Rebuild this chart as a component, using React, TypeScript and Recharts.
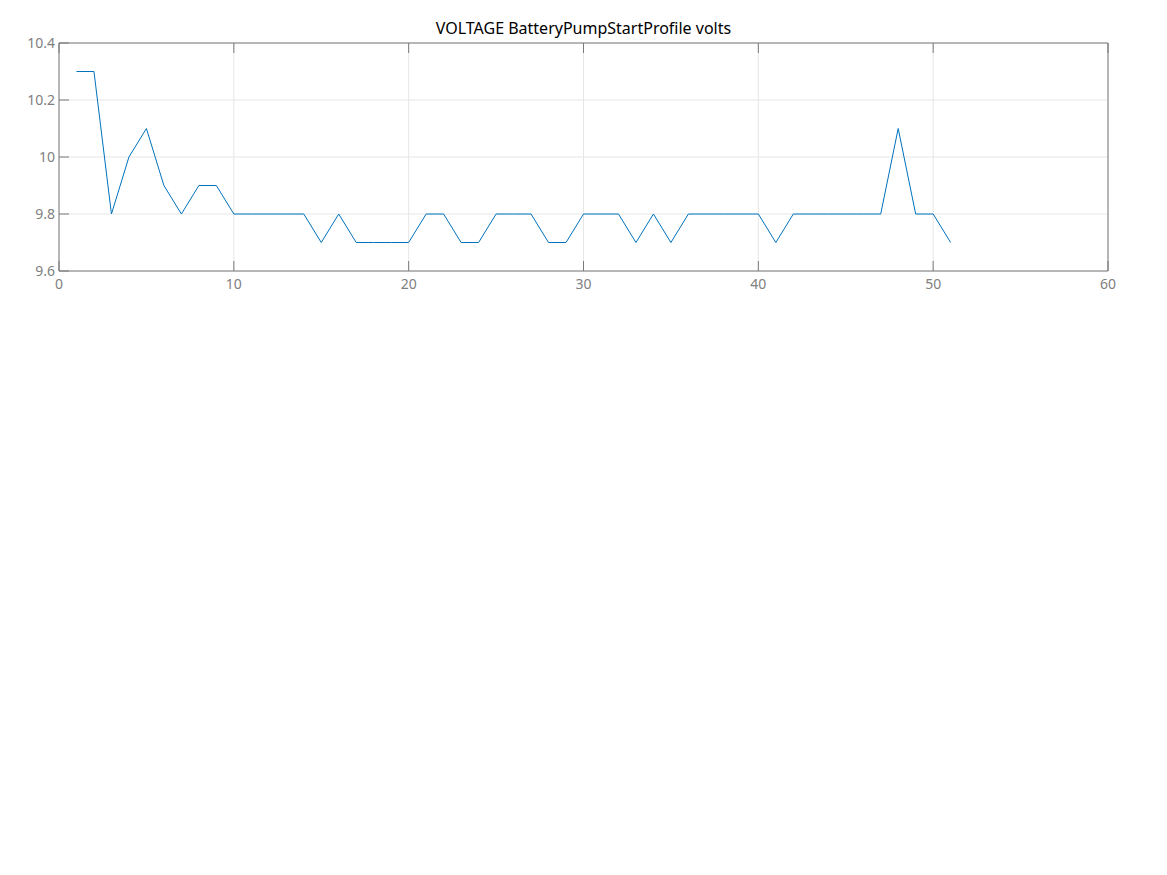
import { LineChart, Line, XAxis, YAxis, CartesianGrid } from 'recharts';

const samples = [
  1, 2, 3, 4, 5, 6, 7, 8, 9, 10, 11, 12, 13, 14, 15, 16, 17, 18, 19, 20, 21, 22, 23, 24, 25,
  26, 27, 28, 29, 30, 31, 32, 33, 34, 35, 36, 37, 38, 39, 40, 41, 42, 43, 44, 45, 46, 47, 48,
  49, 50, 51,
];
const volts = [
  10.3, 10.3, 9.8, 10.0, 10.1, 9.9, 9.8, 9.9, 9.9, 9.8, 9.8, 9.8, 9.8, 9.8, 9.7, 9.8, 9.7, 9.7,
  9.7, 9.7, 9.8, 9.8, 9.7, 9.7, 9.8, 9.8, 9.8, 9.7, 9.7, 9.8, 9.8, 9.8, 9.7, 9.8, 9.7, 9.8, 9.8,
  9.8, 9.8, 9.8, 9.7, 9.8, 9.8, 9.8, 9.8, 9.8, 9.8, 10.1, 9.8, 9.8, 9.7,
];
const xTicks = [0, 10, 20, 30, 40, 50, 60];
const yTicks = [9.6, 9.8, 10, 10.2, 10.4];

const data = samples.map((x, i) => ({ x, v: volts[i] }));

const AXIS = '#7a7a7a';
const LABEL = '#808080';
const FONT = '"Noto Sans", "Open Sans", sans-serif';
const TICK_LEN = 10;
const X_GAP = 8;
const Y_GAP = 4;

// inside tick marks, MATLAB style; the axis line sits one gap away from the label anchor
const BottomTick = ({ x, y, payload }: any) => (
  <g>
    <line x1={x} x2={x} y1={y - X_GAP} y2={y - X_GAP - TICK_LEN} stroke={AXIS} />
    <text x={x} y={y} dy="0.71em" textAnchor="middle" fill={LABEL} fontSize={14} fontFamily={FONT}>
      {payload.value}
    </text>
  </g>
);

const TopTick = ({ x, y }: any) => (
  <line x1={x} x2={x} y1={y + X_GAP} y2={y + X_GAP + TICK_LEN} stroke={AXIS} />
);

const LeftTick = ({ x, y, payload }: any) => (
  <g>
    <line x1={x + Y_GAP} x2={x + Y_GAP + TICK_LEN} y1={y} y2={y} stroke={AXIS} />
    <text x={x} y={y} dy="0.355em" textAnchor="end" fill={LABEL} fontSize={14} fontFamily={FONT}>
      {payload.value}
    </text>
  </g>
);

const RightTick = ({ x, y }: any) => (
  <line x1={x - Y_GAP} x2={x - Y_GAP - TICK_LEN} y1={y} y2={y} stroke={AXIS} />
);

export default function App() {
  return (
    <div style={{ position: 'relative', width: 1167, height: 875, fontFamily: FONT }}>
      <style>{'body{margin:0}'}</style>
      <div
        style={{
          position: 'absolute',
          top: 17,
          left: 59,
          width: 1049,
          textAlign: 'center',
          fontSize: 16,
          color: '#000',
          lineHeight: '22px',
        }}
      >
        VOLTAGE BatteryPumpStartProfile volts
      </div>
      <LineChart
        width={1167}
        height={875}
        data={data}
        margin={{ top: 42, right: 58, bottom: 574, left: 9 }}
      >
        <CartesianGrid stroke="#e6e6e6" strokeWidth={1} />
        <XAxis
          type="number"
          dataKey="x"
          domain={[0, 60]}
          ticks={xTicks}
          height={30}
          stroke={AXIS}
          tickLine={false}
          tickSize={0}
          tickMargin={X_GAP}
          tick={<BottomTick />}
        />
        <XAxis
          xAxisId="top"
          orientation="top"
          type="number"
          dataKey="x"
          domain={[0, 60]}
          ticks={xTicks}
          height={1}
          stroke={AXIS}
          tickLine={false}
          tickSize={0}
          tickMargin={X_GAP}
          tick={<TopTick />}
        />
        <YAxis
          type="number"
          domain={[9.6, 10.4]}
          ticks={yTicks}
          width={50}
          stroke={AXIS}
          tickLine={false}
          tickSize={0}
          tickMargin={Y_GAP}
          tick={<LeftTick />}
        />
        <YAxis
          yAxisId="right"
          orientation="right"
          type="number"
          domain={[9.6, 10.4]}
          ticks={yTicks}
          width={1}
          stroke={AXIS}
          tickLine={false}
          tickSize={0}
          tickMargin={Y_GAP}
          tick={<RightTick />}
        />
        <Line
          type="linear"
          dataKey="v"
          stroke="#0072bd"
          strokeWidth={1}
          dot={false}
          isAnimationActive={false}
        />
      </LineChart>
    </div>
  );
}
